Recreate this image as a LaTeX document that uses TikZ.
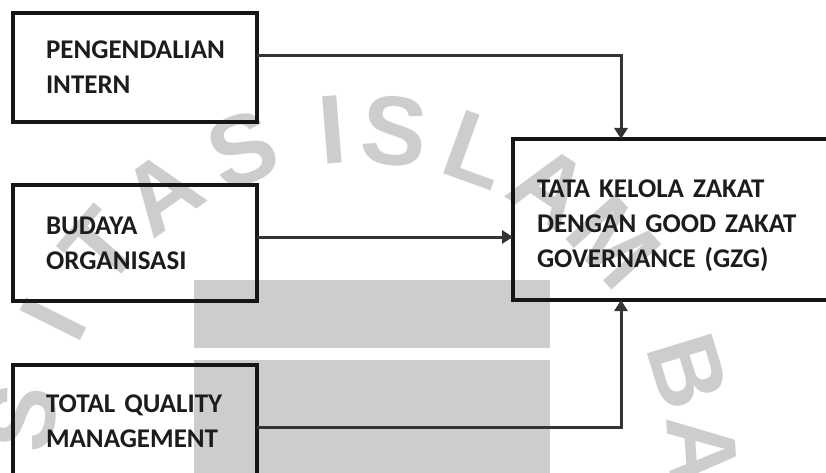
\documentclass[tikz,border=0pt]{standalone}
\usepackage{fontspec}
\setmainfont{Carlito}
\newfontfamily\wmfont{Liberation Sans}
\usepackage{xcolor}
\usetikzlibrary{arrows.meta,positioning,calc}
\definecolor{boxline}{RGB}{22,22,22}
\definecolor{connline}{RGB}{52,52,52}
\definecolor{txtdark}{RGB}{28,28,28}
\definecolor{wmgray}{RGB}{205,205,205}
\newcommand\boxfont{\bfseries\fontsize{27}{35}\selectfont\spaceskip=3.5pt\relax}

\begin{document}
\begin{tikzpicture}[x=1pt,y=-1pt,line join=miter,
  box/.style={draw=boxline,line width=4pt,anchor=north west,outer sep=0pt,
    align=left,text=txtdark,inner ysep=0pt,font=\boxfont},
  conn/.style={draw=connline,line width=3pt,-{Triangle[length=11pt,width=13pt]}},
  wmark/.style={text=wmgray,inner sep=0pt,
    font=\wmfont\bfseries\fontsize{98}{98}\selectfont}]
  \useasboundingbox (0,0) rectangle (826,473);
  % --- watermark behind the diagram ---
  \fill[wmgray] (194,280) rectangle (550,348);
  \fill[wmgray] (194,360) rectangle (550,480);
  \foreach \ch/\ang [count=\i] in {S/171,I/153.5,T/139,A/125.4,S/110,I/94.6,S/84.2,L/70,A/56.3,M/42.2,B/17,A/3.6}
    \node[wmark,rotate=\ang-90] (wm\i) at ($(360,472)+(-\ang:343)$) {\ch};
  % --- variables ---
  \node[box,text width=178pt,inner xsep=33pt,minimum height=109pt] (intern) at (13,13) {PENGENDALIAN\\INTERN};
  \node[box,text width=178pt,inner xsep=33pt,minimum height=116pt] (budaya) at (13,185) {BUDAYA\\ORGANISASI};
  \node[box,text width=178pt,inner xsep=33pt,minimum height=112pt] (tqm) at (13,365) {TOTAL QUALITY\\MANAGEMENT};
  \node[box,text width=284pt,inner xsep=24pt,minimum height=161pt] (zakat) at (513,139) {\rule{0pt}{31pt}TATA KELOLA ZAKAT\\DENGAN GOOD ZAKAT\\GOVERNANCE (GZG)};
  % --- connectors ---
  \coordinate (jn) at ([xshift=108pt]zakat.north west);
  \coordinate (b1) at ([yshift=12pt]intern.east);
  \coordinate (b2) at ([yshift=6pt]budaya.east);
  \coordinate (b3) at ([yshift=-6pt]tqm.east);
  \draw[conn] (b1) -| (jn);
  \draw[conn] (b2) -- (b2 -| zakat.west);
  \draw[conn] (b3) -| (jn |- zakat.south);
\end{tikzpicture}
\end{document}
